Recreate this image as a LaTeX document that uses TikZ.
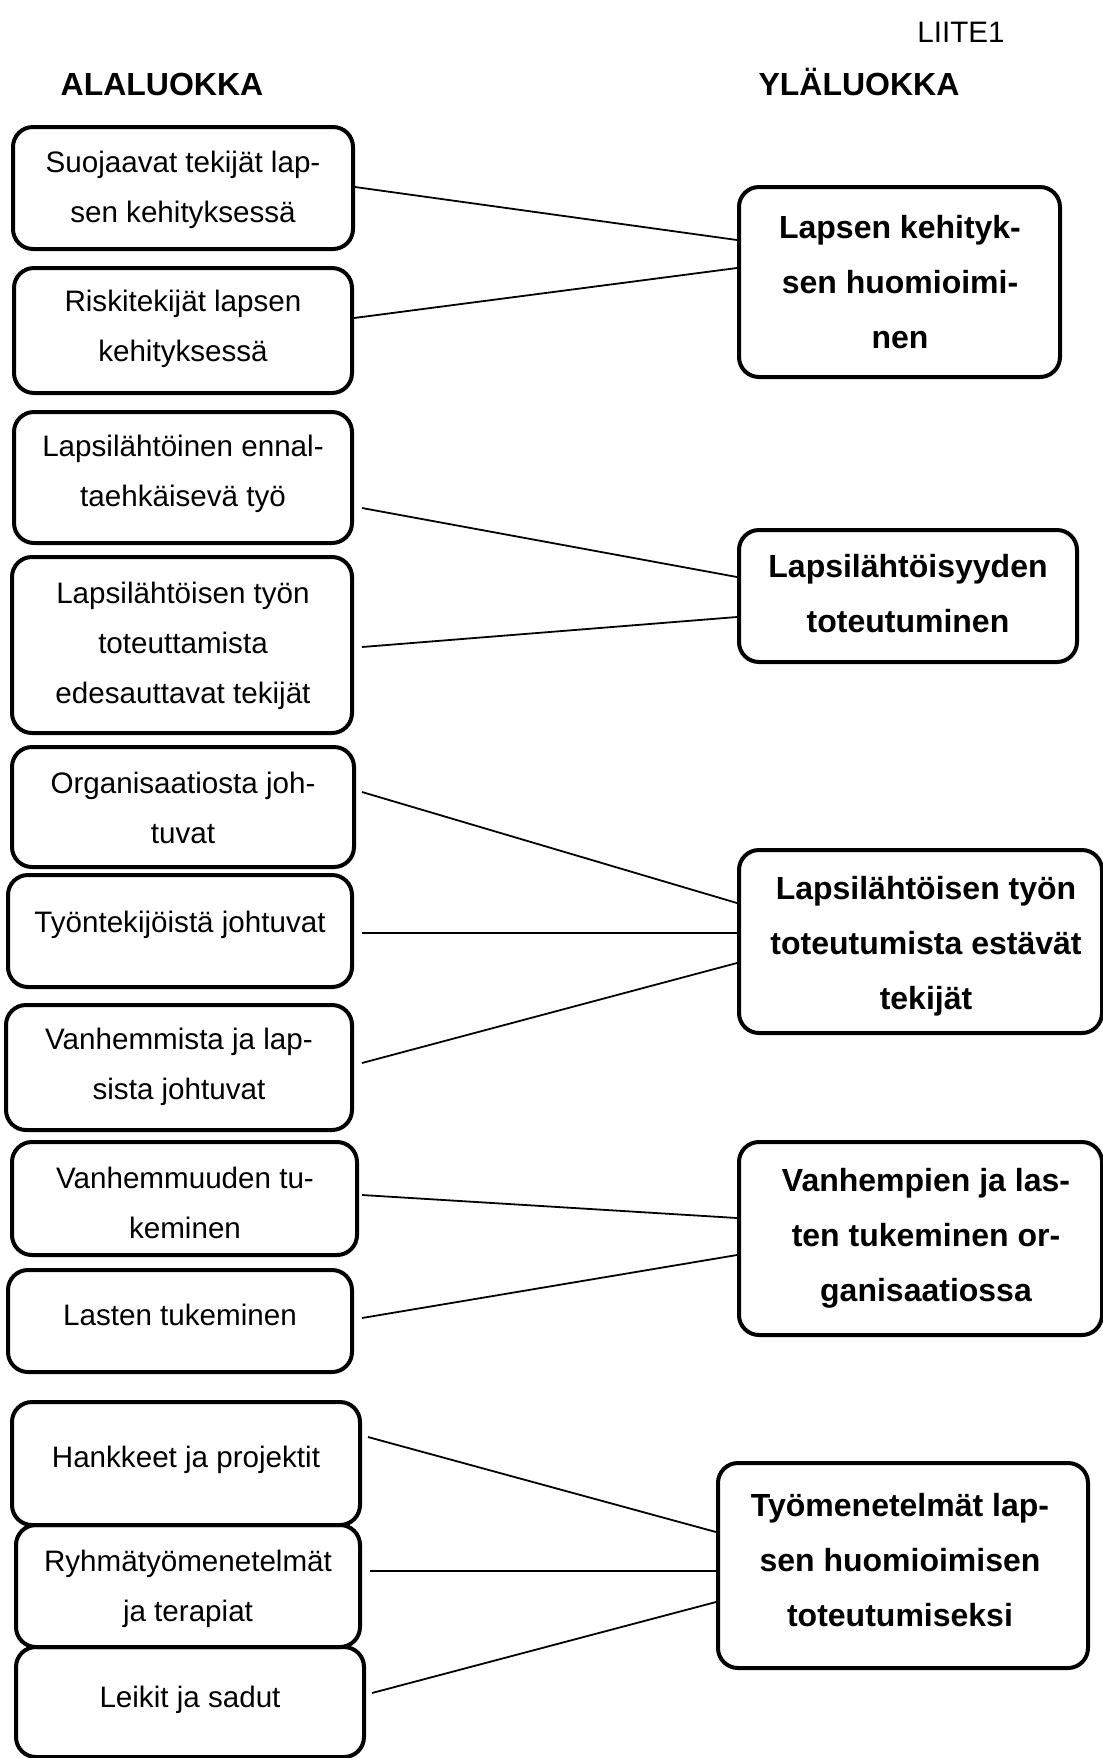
\documentclass[tikz,border=0pt]{standalone}
\usepackage{fontspec}
\setmainfont{Liberation Sans}
\begin{document}
\begin{tikzpicture}[x=0.5pt,y=-0.5pt,
 lbox/.style={draw,line width=2pt,rounded corners=10pt,inner sep=0pt},
 ltxt/.style={align=center,font=\fontsize{14.8}{25}\selectfont},
 rtxt/.style={align=center,font=\bfseries\fontsize{16}{27.5}\selectfont},
 link/.style={line width=0.9pt}]
 \useasboundingbox (0,0) rectangle (1103,1758);
 \node[ltxt] (liite) at (961,32) {LIITE1};
 \node[rtxt] (ala) at (162,84) {ALALUOKKA};
 \node[rtxt] (yla) at (859,82) {YLÄLUOKKA};
 \node[lbox,minimum width=170pt,minimum height=61pt] (s1) at (183,188) {};
 \node[lbox,minimum width=169pt,minimum height=62.5pt] (s2) at (183,330.5) {};
 \node[lbox,minimum width=169pt,minimum height=65.5pt] (s3) at (183,477.5) {};
 \node[lbox,minimum width=170pt,minimum height=88pt] (s4) at (182,645) {};
 \node[lbox,minimum width=171pt,minimum height=60pt] (s5) at (183,807) {};
 \node[lbox,minimum width=172pt,minimum height=56pt] (s6) at (180,931) {};
 \node[lbox,minimum width=173pt,minimum height=62.5pt] (s7) at (179,1067.5) {};
 \node[lbox,minimum width=172.5pt,minimum height=56.5pt] (s8) at (184.5,1198.5) {};
 \node[lbox,minimum width=172pt,minimum height=51pt] (s9) at (180,1321) {};
 \node[lbox,minimum width=174pt,minimum height=61.5pt] (s10) at (186,1463.5) {};
 \node[lbox,minimum width=172pt,minimum height=61pt] (s11) at (188,1586) {};
 \node[lbox,minimum width=174pt,minimum height=55pt] (s12) at (190,1702) {};
 \node[ltxt] (t1) at (183,190) {Suojaavat tekijät lap-\\sen kehityksessä};
 \node[ltxt] (t2) at (183,329) {Riskitekijät lapsen\\kehityksessä};
 \node[ltxt] (t3) at (183,474) {Lapsilähtöinen ennal-\\taehkäisevä työ};
 \node[ltxt] (t4) at (183,646) {Lapsilähtöisen työn\\toteuttamista\\edesauttavat tekijät};
 \node[ltxt] (t5) at (183,808) {Organisaatiosta joh-\\tuvat};
 \node[ltxt] (t6) at (180,925) {Työntekijöistä johtuvat};
 \node[ltxt] (t7) at (179,1067) {Vanhemmista ja lap-\\sista johtuvat};
 \node[ltxt] (t8) at (185,1203) {Vanhemmuuden tu-\\keminen};
 \node[ltxt] (t9) at (180,1315) {Lasten tukeminen};
 \node[ltxt] (t10) at (186,1460) {Hankkeet ja projektit};
 \node[ltxt] (t11) at (188,1589) {Ryhmätyömenetelmät\\ja terapiat};
 \node[ltxt] (t12) at (190,1700) {Leikit ja sadut};
 \node[lbox,minimum width=160.5pt,minimum height=95pt] (r1) at (899.5,282) {};
 \node[lbox,minimum width=169pt,minimum height=66pt] (r2) at (908,596) {};
 \node[lbox,minimum width=181.5pt,minimum height=91.5pt] (r3) at (920.5,941.5) {};
 \node[lbox,minimum width=181.5pt,minimum height=96.5pt] (r4) at (920.5,1238.5) {};
 \node[lbox,minimum width=185pt,minimum height=102.5pt] (r5) at (903,1565.5) {};
 \node[rtxt] (u1) at (900,282) {Lapsen kehityk-\\sen huomioimi-\\nen};
 \node[rtxt] (u2) at (908,594) {Lapsilähtöisyyden\\toteutuminen};
 \node[rtxt] (u3) at (926,946) {Lapsilähtöisen työn\\toteutumista estävät\\tekijät};
 \node[rtxt] (u4) at (926,1238) {Vanhempien ja las-\\ten tukeminen or-\\ganisaatiossa};
 \node[rtxt] (u5) at (900,1560) {Työmenetelmät lap-\\sen huomioimisen\\toteutumiseksi};
 \draw[link] (s1.east |- 0,187) -- (r1.west |- 0,240);
 \draw[link] (s2.east |- 0,318) -- (r1.west |- 0,268);
 \draw[link] ([xshift=4pt]s3.east |- 0,508) -- (r2.west |- 0,577);
 \draw[link] ([xshift=4pt]s4.east |- 0,647) -- (r2.west |- 0,617);
 \draw[link] ([xshift=3pt]s5.east |- 0,792) -- (r3.west |- 0,903);
 \draw[link] ([xshift=4pt]s6.east |- 0,933) -- (r3.west |- 0,933);
 \draw[link] ([xshift=4pt]s7.east |- 0,1063) -- (r3.west |- 0,963);
 \draw[link] ([xshift=1.5pt]s8.east |- 0,1195) -- (r4.west |- 0,1218);
 \draw[link] ([xshift=4pt]s9.east |- 0,1318) -- (r4.west |- 0,1255);
 \draw[link] ([xshift=3pt]s10.east |- 0,1437) -- (r5.west |- 0,1532);
 \draw[link] ([xshift=4pt]s11.east |- 0,1571) -- (r5.west |- 0,1571);
 \draw[link] ([xshift=3pt]s12.east |- 0,1693) -- (r5.west |- 0,1602);
\end{tikzpicture}
\end{document}
